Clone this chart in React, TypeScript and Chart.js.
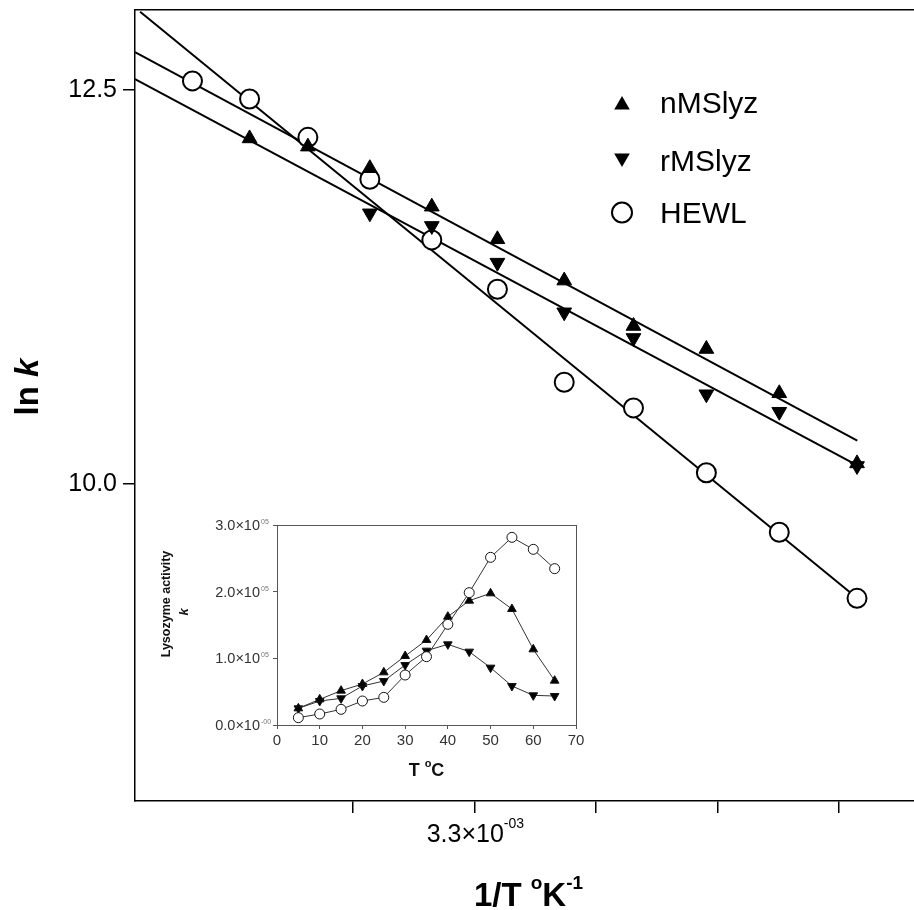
import React, { useEffect, useRef } from 'react';
import { Chart, registerables } from 'chart.js';

Chart.register(...registerables);

// ---------- Main Arrhenius plot: x = 1/T (units of 1e-3 K^-1), y = ln k ----------
const hewlInvT = [3.068, 3.115, 3.163, 3.214, 3.265, 3.319, 3.374, 3.431, 3.491, 3.551, 3.615];
const hewlLnK = [12.553, 12.438, 12.195, 11.929, 11.544, 11.231, 10.641, 10.478, 10.067, 9.689, 9.270];

const nmsInvT = [3.115, 3.163, 3.214, 3.265, 3.319, 3.374, 3.431, 3.491, 3.551, 3.615];
const nmsLnK = [12.188, 12.136, 11.999, 11.755, 11.548, 11.286, 10.998, 10.852, 10.571, 10.126];

const rmsInvT = [3.214, 3.265, 3.319, 3.374, 3.431, 3.491, 3.551, 3.615];
const rmsLnK = [11.713, 11.633, 11.400, 11.085, 10.922, 10.565, 10.454, 10.110];

// regression lines (end points)
const nmsFitX = [3.0207, 3.6152];
const nmsFitY = [12.735, 10.270];
const rmsFitX = [3.0207, 3.6152];
const rmsFitY = [12.565, 10.113];
const hewlFitX = [3.0249, 3.6152];
const hewlFitY = [12.992, 9.270];

const mainXTicks = [3.2, 3.3, 3.4, 3.5, 3.6];
const mainXLabelTick = 3.3;
const mainYTicks = [10.0, 12.5];
const legendLabels = ['nMSlyz', 'rMSlyz', 'HEWL'];

// ---------- Inset: activity k (units of 1e5) vs temperature (°C) ----------
const tempC = [5, 10, 15, 20, 25, 30, 35, 40, 45, 50, 55, 60, 65];
const hewlAct = [0.11, 0.165, 0.235, 0.36, 0.415, 0.75, 1.025, 1.51, 1.985, 2.515, 2.815, 2.635, 2.345];
const nmsAct = [0.25, 0.385, 0.515, 0.615, 0.79, 1.035, 1.275, 1.625, 1.865, 1.975, 1.74, 1.135, 0.665];
const rmsAct = [0.25, 0.36, 0.40, 0.585, 0.66, 0.90, 1.115, 1.21, 1.10, 0.86, 0.585, 0.445, 0.435];
const insetXTicks = [0, 10, 20, 30, 40, 50, 60, 70];
const insetYTicks = [0, 1, 2, 3];

const FF = '"Liberation Sans", Arial, Helvetica, sans-serif';

type Run = { text: string; font: string; dy?: number; color?: string; w?: number };

function drawRuns(ctx: CanvasRenderingContext2D, runs: Run[], x: number, y: number, align: 'left' | 'center' | 'right') {
  ctx.textAlign = 'left';
  ctx.textBaseline = 'alphabetic';
  let total = 0;
  runs.forEach((r) => {
    ctx.font = r.font;
    r.w = ctx.measureText(r.text).width;
    total += r.w;
  });
  let cx = align === 'center' ? x - total / 2 : align === 'right' ? x - total : x;
  runs.forEach((r) => {
    ctx.font = r.font;
    ctx.fillStyle = r.color || '#000';
    ctx.fillText(r.text, cx, y + (r.dy || 0));
    cx += r.w || 0;
  });
}

function trianglePath(ctx: CanvasRenderingContext2D, x: number, y: number, r: number, down: boolean) {
  let rad = down ? Math.PI : 0;
  ctx.beginPath();
  for (let i = 0; i < 3; i++) {
    const px = x + Math.sin(rad) * r;
    const py = y - Math.cos(rad) * r;
    if (i === 0) ctx.moveTo(px, py);
    else ctx.lineTo(px, py);
    rad += (2 * Math.PI) / 3;
  }
  ctx.closePath();
}

const mainTextPlugin = {
  id: 'mainText',
  afterDraw(chart: any) {
    const ctx: CanvasRenderingContext2D = chart.ctx;
    const xs = chart.scales.x;
    const ys = chart.scales.y;
    const area = chart.chartArea;
    ctx.save();
    // y tick labels
    ctx.fillStyle = '#000';
    ctx.font = `25px ${FF}`;
    ctx.textAlign = 'right';
    ctx.textBaseline = 'middle';
    mainYTicks.forEach((v) => {
      ctx.fillText(v.toFixed(1), area.left - 18, ys.getPixelForValue(v) + 1);
    });
    // x tick label with superscript
    const px = xs.getPixelForValue(mainXLabelTick);
    drawRuns(
      ctx,
      [
        { text: `${mainXLabelTick.toFixed(1)}×10`, font: `25px ${FF}` },
        { text: '-03', font: `14px ${FF}`, dy: -14 },
      ],
      px + 1,
      area.bottom + 41,
      'center'
    );
    // x title
    drawRuns(
      ctx,
      [
        { text: '1/T ', font: `bold 33px ${FF}` },
        { text: 'o', font: `bold 19px ${FF}`, dy: -17 },
        { text: 'K', font: `bold 33px ${FF}` },
        { text: '-1', font: `bold 19px ${FF}`, dy: -17 },
      ],
      (area.left + area.right) / 2 + 4,
      area.bottom + 105,
      'center'
    );
    // y title
    ctx.save();
    ctx.translate(38, 387);
    ctx.rotate(-Math.PI / 2);
    drawRuns(
      ctx,
      [
        { text: 'ln ', font: `bold 33px ${FF}` },
        { text: 'k', font: `italic bold 33px ${FF}` },
      ],
      0,
      0,
      'center'
    );
    ctx.restore();
    // legend
    const lx = 622;
    const rows = [105, 158, 212.5];
    const baselines = [113, 171, 223];
    ctx.fillStyle = '#000';
    ctx.strokeStyle = '#000';
    trianglePath(ctx, lx, rows[0], 9, false);
    ctx.fill();
    trianglePath(ctx, lx, rows[1], 9, true);
    ctx.fill();
    ctx.beginPath();
    ctx.arc(lx, rows[2], 10, 0, Math.PI * 2);
    ctx.fillStyle = '#fff';
    ctx.fill();
    ctx.lineWidth = 2;
    ctx.stroke();
    legendLabels.forEach((t, i) => {
      drawRuns(ctx, [{ text: t, font: `30px ${FF}` }], 660, baselines[i], 'left');
    });
    ctx.restore();
  },
};

const insetTextPlugin = {
  id: 'insetText',
  afterDraw(chart: any) {
    const ctx: CanvasRenderingContext2D = chart.ctx;
    const xs = chart.scales.x;
    const ys = chart.scales.y;
    const area = chart.chartArea;
    ctx.save();
    // y tick labels
    insetYTicks.forEach((v) => {
      const py = ys.getPixelForValue(v);
      ctx.textBaseline = 'middle';
      ctx.textAlign = 'right';
      ctx.font = `14.5px ${FF}`;
      ctx.fillStyle = '#333';
      ctx.fillText(`${v.toFixed(1)}×10`, area.left - 17, py + 1);
      ctx.textAlign = 'left';
      ctx.font = `7px ${FF}`;
      ctx.fillStyle = '#777';
      ctx.fillText(v === 0 ? '-00' : '05', area.left - 16, py - 3);
    });
    // x tick labels
    ctx.textAlign = 'center';
    ctx.textBaseline = 'alphabetic';
    ctx.font = `15px ${FF}`;
    ctx.fillStyle = '#333';
    insetXTicks.forEach((v) => {
      ctx.fillText(String(v), xs.getPixelForValue(v), area.bottom + 20);
    });
    // x title
    drawRuns(
      ctx,
      [
        { text: 'T ', font: `bold 18px ${FF}`, color: '#111' },
        { text: 'o', font: `bold 11px ${FF}`, dy: -9, color: '#111' },
        { text: 'C', font: `bold 18px ${FF}`, color: '#111' },
      ],
      (area.left + area.right) / 2,
      area.bottom + 51,
      'center'
    );
    // y title
    ctx.save();
    ctx.translate(area.left - 107.5, 604 - 500);
    ctx.rotate(-Math.PI / 2);
    drawRuns(ctx, [{ text: 'Lysozyme activity', font: `bold 12.5px ${FF}`, color: '#111' }], 0, 0, 'center');
    ctx.restore();
    ctx.save();
    ctx.translate(area.left - 89.5, 612 - 500);
    ctx.rotate(-Math.PI / 2);
    drawRuns(ctx, [{ text: 'k', font: `italic bold 13px ${FF}`, color: '#111' }], 0, 0, 'center');
    ctx.restore();
    ctx.restore();
  },
};

const pts = (xs: number[], ys: number[]) => xs.map((x, i) => ({ x, y: ys[i] }));

export default function App() {
  const mainRef = useRef<HTMLCanvasElement>(null);
  const insetRef = useRef<HTMLCanvasElement>(null);

  useEffect(() => {
    if (!mainRef.current || !insetRef.current) return;
    const X_MIN = 3.0207;
    const X_MAX = 3.6619;
    const Y_MIN = 7.984;
    const Y_MAX = 13.003;

    const fitStyle = {
      showLine: true,
      pointRadius: 0,
      borderColor: '#000',
      borderWidth: 2,
      order: 4,
    };

    const main = new Chart(mainRef.current, {
      type: 'scatter',
      data: {
        datasets: [
          {
            label: legendLabels[0],
            data: pts(nmsInvT, nmsLnK),
            pointStyle: 'triangle',
            pointRadius: 8.5,
            backgroundColor: '#000',
            borderColor: '#000',
            borderWidth: 1,
            order: 1,
          },
          {
            label: legendLabels[1],
            data: pts(rmsInvT, rmsLnK),
            pointStyle: 'triangle',
            rotation: 180,
            pointRadius: 8.5,
            backgroundColor: '#000',
            borderColor: '#000',
            borderWidth: 1,
            order: 2,
          },
          {
            label: legendLabels[2],
            data: pts(hewlInvT, hewlLnK),
            pointStyle: 'circle',
            pointRadius: 9.5,
            backgroundColor: '#fff',
            borderColor: '#000',
            borderWidth: 2,
            order: 3,
          },
          { label: 'nMSlyz fit', data: pts(nmsFitX, nmsFitY), ...fitStyle },
          { label: 'rMSlyz fit', data: pts(rmsFitX, rmsFitY), ...fitStyle },
          { label: 'HEWL fit', data: pts(hewlFitX, hewlFitY), ...fitStyle },
        ] as any,
      },
      options: {
        animation: false,
        responsive: false,
        maintainAspectRatio: false,
        events: [],
        layout: { autoPadding: false, padding: { top: 10, right: 0, bottom: 0, left: 0 } },
        plugins: { legend: { display: false }, tooltip: { enabled: false } },
        scales: {
          x: {
            type: 'linear',
            position: 'bottom',
            min: X_MIN,
            max: X_MAX,
            afterBuildTicks: (s: any) => {
              s.ticks = mainXTicks.map((v) => ({ value: v }));
            },
            afterFit: (s: any) => {
              s.height = 109;
            },
            ticks: { display: false },
            grid: { drawOnChartArea: false, drawTicks: true, tickLength: 12, color: '#000', lineWidth: 1.5 },
            border: { display: true, color: '#000', width: 1.5 },
          },
          xTop: {
            type: 'linear',
            position: 'top',
            min: X_MIN,
            max: X_MAX,
            ticks: { display: false },
            grid: { display: false, drawTicks: false },
            border: { display: true, color: '#000', width: 1.5 },
          },
          y: {
            type: 'linear',
            position: 'left',
            min: Y_MIN,
            max: Y_MAX,
            afterBuildTicks: (s: any) => {
              s.ticks = mainYTicks.map((v) => ({ value: v }));
            },
            afterFit: (s: any) => {
              s.width = 135;
            },
            ticks: { display: false },
            grid: { drawOnChartArea: false, drawTicks: true, tickLength: 12, color: '#000', lineWidth: 1.5 },
            border: { display: true, color: '#000', width: 1.5 },
          },
        } as any,
      },
      plugins: [mainTextPlugin],
    });

    const seriesStyle = (fill: string, style: string, rotation = 0) => ({
      showLine: true,
      borderColor: '#333',
      borderWidth: 1,
      pointStyle: style,
      rotation,
      pointRadius: 5,
      pointBackgroundColor: fill,
      pointBorderColor: '#111',
      pointBorderWidth: 1,
    });

    const inset = new Chart(insetRef.current, {
      type: 'scatter',
      data: {
        datasets: [
          { label: legendLabels[0], data: pts(tempC, nmsAct), ...seriesStyle('#000', 'triangle'), order: 1 },
          { label: legendLabels[1], data: pts(tempC, rmsAct), ...seriesStyle('#000', 'triangle', 180), order: 2 },
          { label: legendLabels[2], data: pts(tempC, hewlAct), ...seriesStyle('#fff', 'circle'), order: 0 },
        ] as any,
      },
      options: {
        animation: false,
        responsive: false,
        maintainAspectRatio: false,
        events: [],
        layout: { autoPadding: false, padding: { top: 25, right: 14, bottom: 0, left: 0 } },
        plugins: { legend: { display: false }, tooltip: { enabled: false } },
        scales: {
          x: {
            type: 'linear',
            position: 'bottom',
            min: 0,
            max: 70,
            afterBuildTicks: (s: any) => {
              s.ticks = insetXTicks.map((v) => ({ value: v }));
            },
            afterFit: (s: any) => {
              s.height = 60;
            },
            ticks: { display: false },
            grid: { drawOnChartArea: false, drawTicks: true, tickLength: 4, color: '#555', lineWidth: 1 },
            border: { display: true, color: '#555', width: 1 },
          },
          xTop: {
            type: 'linear',
            position: 'top',
            min: 0,
            max: 70,
            ticks: { display: false },
            grid: { display: false, drawTicks: false },
            border: { display: true, color: '#555', width: 1 },
          },
          y: {
            type: 'linear',
            position: 'left',
            min: 0,
            max: 3,
            afterBuildTicks: (s: any) => {
              s.ticks = insetYTicks.map((v) => ({ value: v }));
            },
            afterFit: (s: any) => {
              s.width = 127;
            },
            ticks: { display: false },
            grid: { drawOnChartArea: false, drawTicks: true, tickLength: 4, color: '#555', lineWidth: 1 },
            border: { display: true, color: '#555', width: 1 },
          },
          yRight: {
            type: 'linear',
            position: 'right',
            min: 0,
            max: 3,
            ticks: { display: false },
            grid: { display: false, drawTicks: false },
            border: { display: true, color: '#555', width: 1 },
          },
        } as any,
      },
      plugins: [insetTextPlugin],
    });

    return () => {
      main.destroy();
      inset.destroy();
    };
  }, []);

  return (
    <div style={{ position: 'absolute', left: 0, top: 0, width: 914, height: 910, background: '#fff', overflow: 'hidden' }}>
      <canvas ref={mainRef} width={914} height={910} style={{ position: 'absolute', left: 0, top: 0, width: 914, height: 910 }} />
      <canvas ref={insetRef} width={440} height={285} style={{ position: 'absolute', left: 150, top: 500, width: 440, height: 285 }} />
    </div>
  );
}
